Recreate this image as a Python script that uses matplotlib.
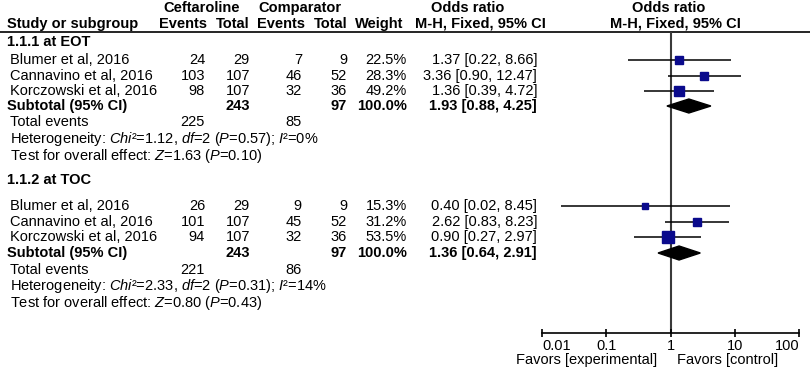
import numpy as np
import matplotlib.pyplot as plt

plt.rcParams['font.family'] = 'Liberation Sans'
plt.rcParams['mathtext.fontset'] = 'custom'
plt.rcParams['mathtext.rm'] = 'Liberation Sans'
plt.rcParams['mathtext.it'] = 'Liberation Sans:italic'
plt.rcParams['mathtext.bf'] = 'Liberation Sans:bold'

studies = ["Blumer et al, 2016", "Cannavino et al, 2016", "Korczowski et al, 2016"]

# 1.1.1 at EOT
eot_cef_events = [24, 103, 98]
eot_cef_total = [29, 107, 107]
eot_cmp_events = [7, 46, 32]
eot_cmp_total = [9, 52, 36]
eot_weight = [22.5, 28.3, 49.2]
eot_or = [1.37, 3.36, 1.36]
eot_lo = [0.22, 0.90, 0.39]
eot_hi = [8.66, 12.47, 4.72]
eot_sub = [1.93, 0.88, 4.25]
eot_het = ["1.12", "2", "0.57", "0"]
eot_z = ["1.63", "0.10"]

# 1.1.2 at TOC
toc_cef_events = [26, 101, 94]
toc_cef_total = [29, 107, 107]
toc_cmp_events = [9, 45, 32]
toc_cmp_total = [9, 52, 36]
toc_weight = [15.3, 31.2, 53.5]
toc_or = [0.40, 2.62, 0.90]
toc_lo = [0.02, 0.83, 0.27]
toc_hi = [8.45, 8.23, 2.97]
toc_sub = [1.36, 0.64, 2.91]
toc_het = ["2.33", "2", "0.31", "14"]
toc_z = ["0.80", "0.43"]

ticks = [0.01, 0.1, 1, 10, 100]
tick_labels = ["0.01", "0.1", "1", "10", "100"]

W, H = 810, 368
fs = 10.5
navy = "#0a0a8c"

fig = plt.figure(figsize=(W / 100, H / 100), dpi=100)
ax = fig.add_axes([0, 0, 1, 1])     # pixel coords for the table text
ax.set_xlim(0, W)
ax.set_ylim(H, 0)
ax.axis("off")

# forest panel, y in the same pixel rows
top, bot, x0, x1 = 32, 333, 542, 799
fx = fig.add_axes([x0 / W, (H - bot) / H, (x1 - x0) / W, (bot - top) / H])
fx.set_xscale("log")
fx.set_xlim(0.01, 100)
fx.set_ylim(bot, top)
fx.patch.set_alpha(0)
for s in ["left", "right", "top"]:
    fx.spines[s].set_visible(False)
fx.spines["bottom"].set_linewidth(1.2)
fx.set_yticks([])
fx.set_xticks(ticks)
fx.set_xticklabels(tick_labels, fontsize=fs)
fx.minorticks_off()
fx.tick_params(axis="x", direction="inout", length=6, width=1.2, pad=1)
lbls = fx.get_xticklabels()
lbls[0].set_ha("left")
lbls[-1].set_ha("right")
fx.axvline(1, color="#3a3a3a", lw=1.5, zorder=1)

# header
ax.text(202, 8, "Ceftaroline", ha="center", va="center", fontsize=fs, fontweight="bold")
ax.text(300, 8, "Comparator", ha="center", va="center", fontsize=fs, fontweight="bold")
ax.text(468, 8, "Odds ratio", ha="center", va="center", fontsize=fs, fontweight="bold")
ax.text(669, 8, "Odds ratio", ha="center", va="center", fontsize=fs, fontweight="bold")
ax.text(7, 24, "Study or subgroup", ha="left", va="center", fontsize=fs, fontweight="bold")
for xr, t in [(207, "Events"), (250, "Total"), (305, "Events"), (347, "Total"), (403, "Weight")]:
    ax.text(xr, 24, t, ha="right", va="center", fontsize=fs, fontweight="bold")
ax.text(480, 24, "M-H, Fixed, 95% CI", ha="center", va="center", fontsize=fs, fontweight="bold")
ax.text(675, 24, "M-H, Fixed, 95% CI", ha="center", va="center", fontsize=fs, fontweight="bold")
ax.plot([0, W], [top, top], color="black", lw=1.2)


def draw_group(ys, title, ce, ct, me, mt, w, orr, lo, hi, sub, het, z):
    y_head, r1, r2, r3, y_sub, y_tot, y_het, y_z = ys
    ax.text(7, y_head, title, ha="left", va="center", fontsize=fs, fontweight="bold")
    for i, y in enumerate([r1, r2, r3]):
        ax.text(10, y, studies[i], ha="left", va="center", fontsize=fs)
        ax.text(205, y, str(ce[i]), ha="right", va="center", fontsize=fs)
        ax.text(250, y, str(ct[i]), ha="right", va="center", fontsize=fs)
        ax.text(302, y, str(me[i]), ha="right", va="center", fontsize=fs)
        ax.text(347, y, str(mt[i]), ha="right", va="center", fontsize=fs)
        ax.text(407, y, f"{w[i]:.1f}%", ha="right", va="center", fontsize=fs)
        ax.text(537, y, f"{orr[i]:.2f} [{lo[i]:.2f}, {hi[i]:.2f}]", ha="right", va="center", fontsize=fs)
        fx.hlines(y, lo[i], hi[i], color="black", lw=1.1, zorder=2)
        side = 1.55 * np.sqrt(w[i])
        fx.plot(orr[i], y, marker="s", ms=side * 0.72, color=navy, mec=navy, ls="none", zorder=3)
    ax.text(7, y_sub, "Subtotal (95% CI)", ha="left", va="center", fontsize=fs, fontweight="bold")
    ax.text(250, y_sub, str(sum(ct)), ha="right", va="center", fontsize=fs, fontweight="bold")
    ax.text(347, y_sub, str(sum(mt)), ha="right", va="center", fontsize=fs, fontweight="bold")
    ax.text(407, y_sub, f"{sum(w):.1f}%", ha="right", va="center", fontsize=fs, fontweight="bold")
    ax.text(537, y_sub, f"{sub[0]:.2f} [{sub[1]:.2f}, {sub[2]:.2f}]", ha="right", va="center",
            fontsize=fs, fontweight="bold")
    fx.fill([sub[1], sub[0], sub[2], sub[0]], [y_sub, y_sub - 7, y_sub, y_sub + 7],
            color="black", zorder=3)
    ax.text(10, y_tot, "Total events", ha="left", va="center", fontsize=fs)
    ax.text(205, y_tot, str(sum(ce)), ha="right", va="center", fontsize=fs)
    ax.text(302, y_tot, str(sum(me)), ha="right", va="center", fontsize=fs)
    ax.text(10, y_het,
            "Heterogeneity: $Chi$²=" + het[0] + ", $df$=" + het[1] + " ($P$=" + het[2]
            + "); $I$²=" + het[3] + "%", ha="left", va="center", fontsize=fs)
    ax.text(10, y_z, "Test for overall effect: $Z$=" + z[0] + " ($P$=" + z[1] + ")",
            ha="left", va="center", fontsize=fs)


draw_group([42, 60, 76, 91, 106, 122, 139, 156], "1.1.1 at EOT",
           eot_cef_events, eot_cef_total, eot_cmp_events, eot_cmp_total,
           eot_weight, eot_or, eot_lo, eot_hi, eot_sub, eot_het, eot_z)
draw_group([180, 206, 222, 237, 253, 270, 286, 303], "1.1.2 at TOC",
           toc_cef_events, toc_cef_total, toc_cmp_events, toc_cmp_total,
           toc_weight, toc_or, toc_lo, toc_hi, toc_sub, toc_het, toc_z)

ax.text(657, 360, "Favors [experimental]", ha="right", va="center", fontsize=fs)
ax.text(677, 360, "Favors [control]", ha="left", va="center", fontsize=fs)

fig.savefig("out.png", dpi=100)
